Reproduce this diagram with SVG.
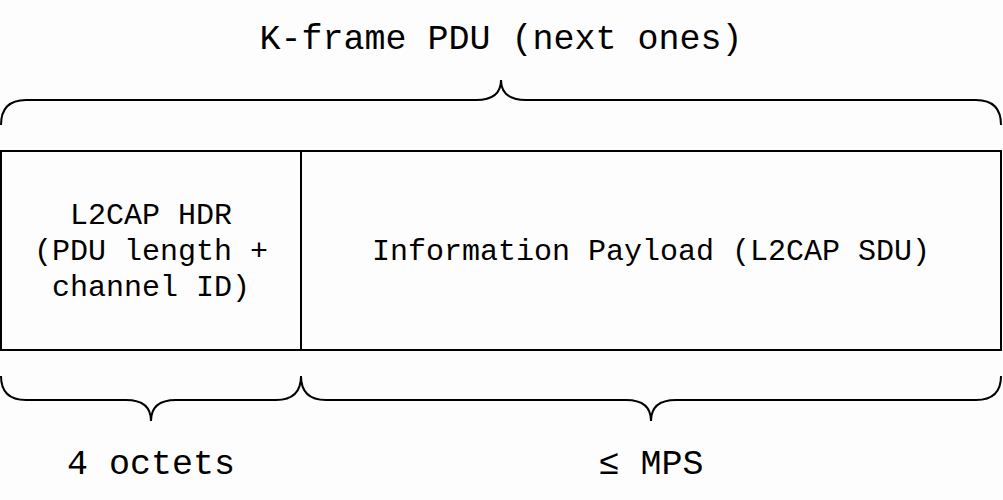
<svg xmlns="http://www.w3.org/2000/svg" width="1003" height="500" viewBox="0 0 1003 500">
<style>
.ln{fill:none;stroke:#000;stroke-width:2}
.t{font-family:"Liberation Mono","Courier New",monospace;fill:#000;text-anchor:middle}
.big{font-size:35px}
.mid{font-size:30px}
</style>
<rect width="1003" height="500" fill="#fdfdfd"/>
<g id="title"><text class="t big" x="501" y="49">K-frame PDU (next ones)</text></g>
<g id="hdr">
<rect class="ln" x="1" y="151" width="300" height="199"/>
<text class="t mid" x="151" y="224">L2CAP HDR</text>
<text class="t mid" x="151" y="260">(PDU length +</text>
<text class="t mid" x="151" y="296">channel ID)</text>
</g>
<g id="payload">
<rect class="ln" x="301" y="151" width="700" height="199"/>
<text class="t mid" x="651" y="260">Information Payload (L2CAP SDU)</text>
</g>
<g id="connectors">
<path class="ln" d="M1,125 Q1,100 26,100 L476,100 Q501,100 501,80 Q501,100 526,100 L976,100 Q1001,100 1001,125"/>
<path class="ln" d="M1,376 Q1,400 26,400 L126,400 Q151,400 151,421 Q151,400 176,400 L276,400 Q301,400 301,376"/>
<path class="ln" d="M301,376 Q301,400 326,400 L626,400 Q651,400 651,421 Q651,400 676,400 L976,400 Q1001,400 1001,376"/>
</g>
<g id="lbl1"><text class="t big" x="151" y="474">4 octets</text></g>
<g id="lbl2"><text class="t big" x="651" y="474">≤ MPS</text></g>
</svg>
